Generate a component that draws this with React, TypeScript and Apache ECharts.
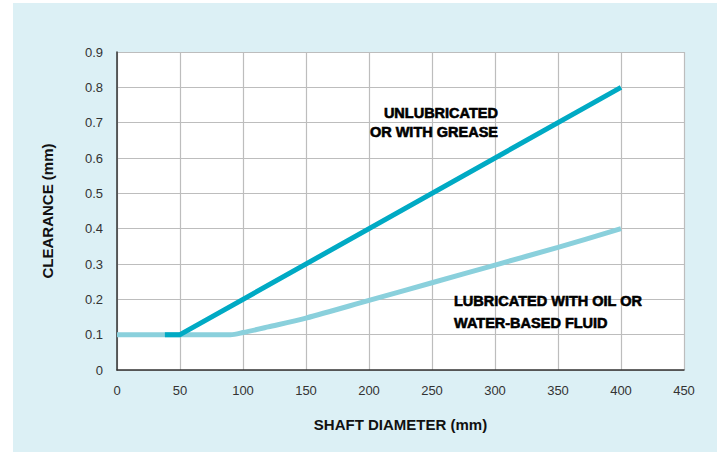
import React, { useEffect, useRef } from "react";
import * as echarts from "echarts";

const xTicks = [0, 50, 100, 150, 200, 250, 300, 350, 400, 450];
const unlubricated: [number, number][] = [
  [38, 0.1],
  [50, 0.1],
  [400, 0.8],
];
const lubricated: [number, number][] = [
  [0, 0.1],
  [90, 0.1],
  [100, 0.106],
  [120, 0.122],
  [150, 0.147],
  [200, 0.197],
  [250, 0.247],
  [300, 0.297],
  [350, 0.347],
  [400, 0.4],
];
const labelA = ["UNLUBRICATED", "OR WITH GREASE"];
const labelB = ["LUBRICATED WITH OIL OR", "WATER-BASED FLUID"];

export default function App() {
  const ref = useRef<HTMLDivElement>(null);
  useEffect(() => {
    document.body.style.margin = "0";
    const chart = echarts.init(ref.current!, null, { renderer: "svg" });
    const tick = { fontFamily: "Liberation Sans, Arial, sans-serif", fontSize: 13, color: "#333" };
    const heavy = {
      fontFamily: "Liberation Sans, Arial, sans-serif",
      fontWeight: "bold",
      fontSize: 14.5,
      fill: "#000",
      stroke: "#000",
      lineWidth: 0.6,
    };
    const nameStyle = {
      fontFamily: "Liberation Sans, Arial, sans-serif",
      fontWeight: "bold",
      fontSize: 15,
      color: "#111",
    };
    chart.setOption({
      animation: false,
      backgroundColor: "#ffffff",
      graphic: [
        { type: "rect", z: -10, shape: { x: 13, y: 3, width: 704, height: 449 }, style: { fill: "#dcf0f5" } },
        {
          type: "text", z: 100, x: 498, y: 103,
          style: { ...heavy, text: labelA.join("\n"), align: "right", lineHeight: 19 },
        },
        {
          type: "text", z: 100, x: 454, y: 290,
          style: { ...heavy, text: labelB.join("\n"), align: "left", lineHeight: 22 },
        },
      ],
      grid: {
        left: 117, right: 33, top: 52, bottom: 82,
        show: true, backgroundColor: "#ffffff", borderWidth: 0,
      },
      xAxis: {
        type: "value", min: 0, max: 450, interval: 50,
        name: "SHAFT DIAMETER (mm)", nameLocation: "middle", nameGap: 47,
        nameTextStyle: nameStyle,
        axisLine: { show: true, lineStyle: { color: "#333", width: 1.5 } },
        axisTick: { show: false },
        axisLabel: { ...tick, margin: 14, formatter: (v: number) => (xTicks.includes(v) ? String(v) : "") },
        splitLine: { show: true, lineStyle: { color: "#bdbdbd", width: 1.2 } },
      },
      yAxis: {
        type: "value", min: 0, max: 0.9, interval: 0.1,
        name: "CLEARANCE (mm)", nameLocation: "middle", nameGap: 62, nameRotate: 90,
        nameTextStyle: nameStyle,
        axisLine: { show: true, lineStyle: { color: "#333", width: 1.5 } },
        axisTick: { show: false },
        axisLabel: { ...tick, margin: 14, formatter: (v: number) => (v === 0 ? "0" : v.toFixed(1)) },
        splitLine: { show: true, lineStyle: { color: "#bdbdbd", width: 1.2 } },
      },
      series: [
        {
          type: "line", data: lubricated, showSymbol: false, smooth: 0.3,
          lineStyle: { color: "#8ad0dc", width: 5, cap: "butt" }, z: 3,
        },
        {
          type: "line", data: unlubricated, showSymbol: false,
          lineStyle: { color: "#00aac4", width: 5, cap: "butt" }, z: 4,
        },
      ],
    });
    return () => chart.dispose();
  }, []);
  return <div ref={ref} style={{ width: 717, height: 452 }} />;
}
